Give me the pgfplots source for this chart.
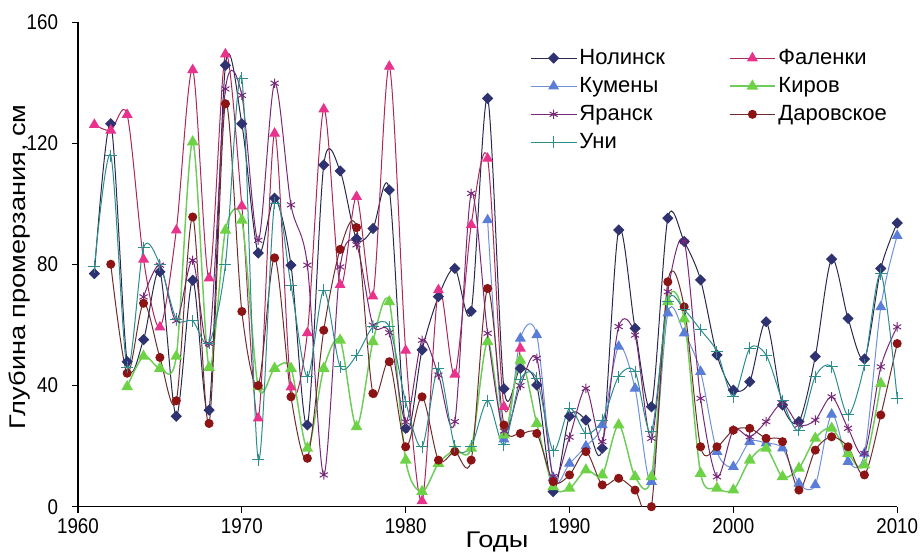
\documentclass[border=0pt]{standalone}
\usepackage{pgfplots}
\pgfplotsset{compat=1.18}
\usepackage{fontspec}
\setmainfont{Liberation Sans}
\newfontfamily\tickfont[FakeStretch=0.88]{Liberation Sans}
\newfontfamily\titlefont[FakeStretch=1.2]{Liberation Sans}
\definecolor{cNol}{RGB}{46,50,112}
\definecolor{cNolL}{RGB}{40,40,80}
\definecolor{cFal}{RGB}{232,50,140}
\definecolor{cFalL}{RGB}{170,40,90}
\definecolor{cKum}{RGB}{90,125,215}
\definecolor{cKumL}{RGB}{110,145,215}
\definecolor{cKir}{RGB}{110,210,70}
\definecolor{cKirL}{RGB}{110,205,90}
\definecolor{cYar}{RGB}{120,40,120}
\definecolor{cDar}{RGB}{140,20,20}
\definecolor{cDarL}{RGB}{110,45,45}
\definecolor{cUni}{RGB}{45,140,140}
\begin{document}
\begin{tikzpicture}
\path[use as bounding box] (0,0) rectangle (691.5pt,414.75pt);
\begin{axis}[
  at={(58.5pt,34.7pt)}, anchor=south west,
  scale only axis, width=614.4pt, height=363.3pt,
  xmin=1960, xmax=2010, ymin=0, ymax=160,
  axis lines=left, axis line style={-, line width=0.8pt, black},
  tick align=outside, major tick length=4.5pt,
  tick style={black, line width=0.8pt},
  xtick={1960,1970,...,2010}, ytick={0,40,...,160},
  minor tick num=0,
  /pgf/number format/1000 sep={},
  /pgf/number format/assume math mode=true,
  ticklabel style={font=\tickfont\fontsize{16}{18}\selectfont},
  yticklabel style={xshift=-7pt},
  xticklabel style={yshift=-1pt},
  xlabel={Годы}, ylabel={Глубина промерзания, см},
  xlabel style={font=\titlefont\fontsize{17}{20}\selectfont, at={(axis description cs:0.5,0)}, anchor=north, inner sep=0pt, yshift=-19pt, xshift=7pt},
  ylabel style={font=\titlefont\fontsize{17}{20}\selectfont, at={(axis description cs:-0.0708,0.495)}, anchor=center, inner sep=0pt},
  legend columns=2, legend cell align=left,
  legend style={at={(axis description cs:0.552,0.95)}, anchor=north west, draw=none, fill=none, inner sep=0pt,
    font=\fontsize{16.5}{19}\selectfont, row sep=4.2pt,
    /tikz/every even column/.append style={column sep=46pt}},
  legend image code/.code={\draw[mark repeat=2,mark phase=2] plot coordinates {(0pt,0pt) (17pt,0pt) (34pt,0pt)};},
  every axis plot/.append style={smooth, line width=0.75pt},
]
% Нолинск
\addplot[cNolL, mark=square*, mark size=2.6pt, mark options={rotate=45, fill=cNol, draw=cNol, solid}] coordinates {
(1961,77)(1962,126.5)(1963,47.9)(1964,55.2)(1965,77.6)(1966,29.9)(1967,74.8)(1968,31.9)(1969,145.8)(1970,126.5)(1971,83.8)(1972,101.9)(1973,79.8)(1974,27)(1975,112.9)(1976,110.9)(1977,88.5)(1978,91.9)(1979,104.6)(1980,25.9)(1981,51.8)(1982,69.4)(1983,78.7)(1984,64.6)(1985,134.9)(1986,39)(1987,45.7)(1988,40.2)(1989,5)(1990,29.9)(1991,28.6)(1992,19.3)(1993,91.4)(1994,58.9)(1995,33)(1996,95.3)(1997,87.6)(1998,74.9)(1999,50.1)(2000,38.5)(2001,41.3)(2002,61.1)(2003,33.6)(2004,28.1)(2005,49.6)(2006,81.8)(2007,62.2)(2008,48.8)(2009,78.7)(2010,93.7)};
\addlegendentry{Нолинск}
% Фаленки
\addplot[cFalL, mark=triangle*, mark size=4pt, mark options={fill=cFal, draw=cFal, solid}] coordinates {
(1961,126.2)(1962,124.3)(1963,129.5)(1964,81.7)(1965,59.3)(1966,91.3)(1967,144.3)(1968,75.5)(1969,149.5)(1970,99.3)(1971,29.2)(1972,123.3)(1973,39.5)(1974,57.4)(1975,131.3)(1976,73.3)(1977,102.4)(1978,69.5)(1979,145.4)(1980,51.6)(1981,1.9)(1982,71.6)(1983,43.7)(1984,93.1)(1985,115)(1986,33)(1987,52.3)};
\addlegendentry{Фаленки}
% Кумены
\addplot[cKumL, mark=triangle*, mark size=4pt, mark options={fill=cKum, draw=cKum, solid}] coordinates {
(1985,94.7)(1986,22.3)(1987,55.6)(1988,56.7)(1989,9.6)(1990,14.3)(1991,20)(1992,27)(1993,52.9)(1994,39.1)(1995,8.3)(1996,63.9)(1997,57.3)(1998,44.6)(1999,18.2)(2000,13.2)(2001,21.5)(2002,21)(2003,19.3)(2004,7.7)(2005,7.2)(2006,30.5)(2007,14.9)(2008,17.6)(2009,66)(2010,89.5)};
\addlegendentry{Кумены}
% Киров
\addplot[cKirL, line width=1.1pt, mark=triangle*, mark size=4pt, mark options={fill=cKir, draw=cKir, solid}] coordinates {
(1963,39.6)(1964,49.7)(1965,45.7)(1966,49.7)(1967,120.5)(1968,46)(1969,91.3)(1970,94.6)(1971,39.6)(1972,45.7)(1973,45.7)(1974,19.3)(1975,45.7)(1976,55)(1977,26.4)(1978,54.5)(1979,67.7)(1980,15.4)(1981,5)(1982,14.3)(1983,18.7)(1984,19.3)(1985,54.5)(1986,23.7)(1987,48.4)(1988,27.5)(1989,6.6)(1990,6.1)(1991,12.1)(1992,10.5)(1993,27)(1994,9.9)(1995,9.9)(1996,67.7)(1997,62)(1998,11)(1999,6.1)(2000,5.5)(2001,15.4)(2002,19.3)(2003,9.9)(2004,12.7)(2005,22.6)(2006,25.9)(2007,17.6)(2008,13.8)(2009,40.7)};
\addlegendentry{Киров}
% Яранск
\addplot[cYar, mark=asterisk, mark size=3.5pt, mark options={solid}] coordinates {
(1964,69.3)(1965,79.8)(1966,61.4)(1967,81.4)(1968,53.9)(1969,138)(1970,135.9)(1971,88)(1972,139.9)(1973,99.7)(1974,79.8)(1975,10.5)(1976,79.2)(1977,86.5)(1978,60)(1979,57.5)(1980,28)(1981,55)(1982,43.5)(1983,28.1)(1984,103.5)(1985,57.3)(1986,25)(1987,40)(1988,49)(1989,10)(1990,23)(1991,39.1)(1992,21.5)(1993,59.5)(1994,56.7)(1995,22.6)(1996,71)(1997,87.6)(1998,35.8)(1999,9.9)(2000,25.3)(2001,23.1)(2002,28.1)(2003,34.1)(2004,27)(2005,28.6)(2006,36.3)(2007,25.9)(2008,17.6)(2009,46.2)(2010,59.4)};
\addlegendentry{Яранск}
% Даровское
\addplot[cDarL, mark=*, mark size=3pt, mark options={fill=cDar, draw=cDar, solid}] coordinates {
(1962,80.1)(1963,44.1)(1964,67.2)(1965,49.3)(1966,35)(1967,95.7)(1968,27.5)(1969,133.1)(1970,64.5)(1971,40)(1972,82.2)(1973,36.3)(1974,16)(1975,58.3)(1976,85)(1977,92.2)(1978,37.4)(1979,47.9)(1980,19.8)(1981,36.3)(1982,15.4)(1983,18.2)(1984,15.4)(1985,72.1)(1986,27)(1987,24.2)(1988,24.2)(1989,8.3)(1990,10.5)(1991,18.2)(1992,7.2)(1993,9.4)(1994,5.5)(1995,0)(1996,74.3)(1997,66)(1998,19.8)(1999,19.8)(2000,25.3)(2001,25.9)(2002,22.6)(2003,21.5)(2004,5.5)(2005,18.7)(2006,23.1)(2007,19.8)(2008,10.5)(2009,30.3)(2010,53.9)};
\addlegendentry{Даровское}
% Уни
\addplot[cUni, mark=+, mark size=4.5pt, mark options={solid}] coordinates {
(1961,79.2)(1962,116)(1963,46)(1964,85.5)(1965,80)(1966,62)(1967,61.4)(1968,54)(1969,80)(1970,141.5)(1971,15.6)(1972,100.2)(1973,73.2)(1974,42.9)(1975,71.5)(1976,46.2)(1977,50)(1978,59.4)(1979,59.4)(1980,34.7)(1981,19.8)(1982,45.7)(1983,20)(1984,20)(1985,35)(1986,20.4)(1987,42)(1988,42.4)(1989,18.5)(1990,32.5)(1991,24.2)(1992,28.6)(1993,43)(1994,44.6)(1995,24.8)(1996,67.7)(1997,65)(1998,58.4)(1999,51.2)(2000,36.3)(2001,52.3)(2002,50.1)(2003,35)(2004,25.3)(2005,43)(2006,46.2)(2007,30.3)(2008,46.8)(2009,77)(2010,35.8)};
\addlegendentry{Уни}
\end{axis}
\end{tikzpicture}
\end{document}
